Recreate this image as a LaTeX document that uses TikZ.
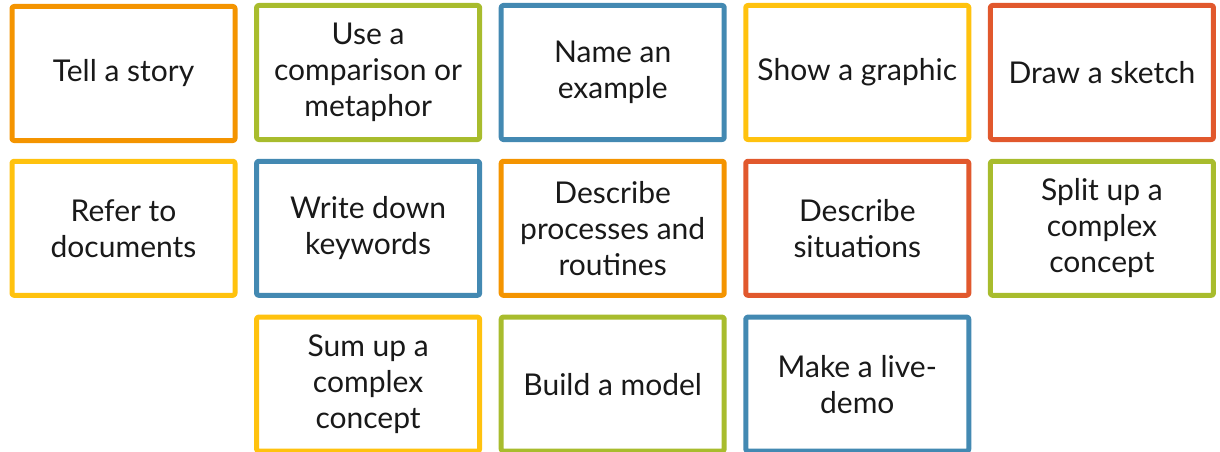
\documentclass[tikz,border=0pt]{standalone}
\usepackage{fontspec}
\setmainfont{Lato}
\usepackage{tikz}
\usetikzlibrary{positioning}

\definecolor{cardorange}{RGB}{244,148,0}
\definecolor{cardgreen}{RGB}{168,188,45}
\definecolor{cardblue}{RGB}{67,137,178}
\definecolor{cardyellow}{RGB}{255,194,14}
\definecolor{cardred}{RGB}{225,88,45}

\begin{document}
\begin{tikzpicture}[
		x=1pt, y=-1pt,
		line join=round,
		card/.style={draw=#1, line width=5pt, rounded corners=2pt, fill=white,
				minimum width=223pt, minimum height=134pt, inner sep=0pt,
				align=center, font=\fontsize{30}{36}\selectfont, text=black!90}
	]
	% Parameters
	\def\dx{244.6}
	\def\dy{155.8}
	\def\xo{123.5}
	\def\yo{72.5}

	\useasboundingbox (0,0) rectangle (1220,452);

	% First row
	\node[card=cardorange] (story)    at (\xo+0*\dx,\yo+1) {Tell a story};
	\node[card=cardgreen]  (metaphor) at (\xo+1*\dx,\yo) {Use a\\comparison or\\metaphor};
	\node[card=cardblue]   (example)  at (\xo+2*\dx,\yo) {Name an\\example};
	\node[card=cardyellow] (graphic)  at (\xo+3*\dx,\yo) {Show a graphic};
	\node[card=cardred]    (sketch)   at (\xo+4*\dx,\yo) {Draw a sketch};

	% Second row
	\node[card=cardyellow] (documents) at (\xo+0*\dx,\yo+\dy) {Refer to\\documents};
	\node[card=cardblue]   (keywords)  at (\xo+1*\dx,\yo+\dy) {Write down\\keywords};
	\node[card=cardorange] (routines)  at (\xo+2*\dx,\yo+\dy) {Describe\\processes and\\routines};
	\node[card=cardred]    (situations) at (\xo+3*\dx,\yo+\dy) {Describe\\situations};
	\node[card=cardgreen]  (split)     at (\xo+4*\dx,\yo+\dy) {Split up a\\complex\\concept};

	% Third row
	\node[card=cardyellow] (sumup) at (\xo+1*\dx,\yo+2*\dy) {Sum up a\\complex\\concept};
	\node[card=cardgreen]  (model) at (\xo+2*\dx,\yo+2*\dy) {Build a model};
	\node[card=cardblue]   (demo)  at (\xo+3*\dx,\yo+2*\dy) {Make a live-\\demo};
\end{tikzpicture}
\end{document}
